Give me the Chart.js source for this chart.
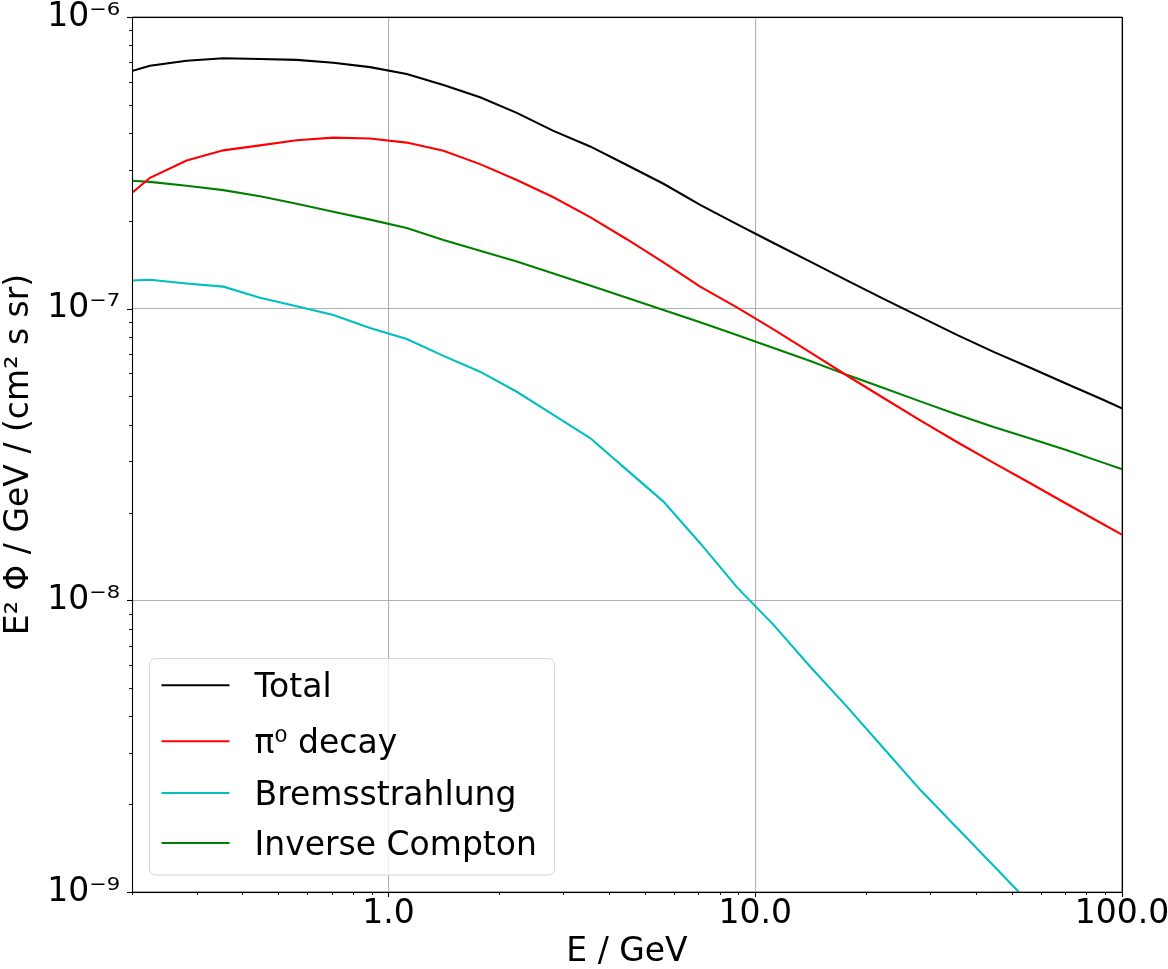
<!DOCTYPE html>
<html><head><meta charset="utf-8">
<script src="https://cdn.jsdelivr.net/npm/chart.js@4.4.0/dist/chart.umd.min.js"></script>
<style>html,body{margin:0;padding:0;background:#fff;overflow:hidden}canvas{display:block}</style>
</head><body>
<canvas id="c" width="1168" height="969" style="width:1168px;height:969px"></canvas>
<script>
// Energies (GeV)
const energy = [0.1778, 0.2239, 0.2818, 0.3548, 0.4467, 0.5623, 0.7079, 0.8913, 1.122, 1.413,
  1.778, 2.239, 2.818, 3.548, 4.467, 5.623, 7.079, 8.913, 11.22, 14.13,
  17.78, 22.39, 28.18, 35.48, 44.67, 56.23, 70.79, 89.13, 112.2];
// E^2 Phi / GeV / (cm^2 s sr)
const total = [6.25e-7, 6.81e-7, 7.08e-7, 7.22e-7, 7.18e-7, 7.13e-7, 6.97e-7, 6.73e-7, 6.38e-7, 5.85e-7,
  5.31e-7, 4.69e-7, 4.07e-7, 3.60e-7, 3.11e-7, 2.68e-7, 2.27e-7, 1.95e-7, 1.68e-7, 1.45e-7,
  1.25e-7, 1.08e-7, 9.37e-8, 8.13e-8, 7.11e-8, 6.27e-8, 5.52e-8, 4.86e-8, 4.26e-8];
const pionDecay = [2.20e-7, 2.81e-7, 3.22e-7, 3.49e-7, 3.63e-7, 3.78e-7, 3.86e-7, 3.83e-7, 3.71e-7, 3.48e-7,
  3.13e-7, 2.76e-7, 2.41e-7, 2.06e-7, 1.73e-7, 1.44e-7, 1.19e-7, 1.01e-7, 8.49e-8, 7.08e-8,
  5.90e-8, 4.94e-8, 4.14e-8, 3.49e-8, 2.96e-8, 2.52e-8, 2.14e-8, 1.82e-8, 1.55e-8];
const bremsstrahlung = [1.24e-7, 1.257e-7, 1.22e-7, 1.19e-7, 1.09e-7, 1.02e-7, 9.52e-8, 8.59e-8, 7.87e-8, 6.89e-8,
  6.08e-8, 5.19e-8, 4.32e-8, 3.60e-8, 2.80e-8, 2.18e-8, 1.57e-8, 1.11e-8, 8.24e-9, 5.92e-9,
  4.32e-9, 3.11e-9, 2.24e-9, 1.66e-9, 1.23e-9, 9.1e-10, null, null, null];
const inverseCompton = [2.77e-7, 2.72e-7, 2.64e-7, 2.55e-7, 2.43e-7, 2.29e-7, 2.15e-7, 2.02e-7, 1.89e-7, 1.72e-7,
  1.58e-7, 1.45e-7, 1.32e-7, 1.20e-7, 1.09e-7, 9.90e-8, 8.98e-8, 8.13e-8, 7.33e-8, 6.62e-8,
  5.93e-8, 5.35e-8, 4.81e-8, 4.34e-8, 3.93e-8, 3.59e-8, 3.27e-8, 2.96e-8, 2.68e-8];

const seriesLabels = ['Total', 'π⁰ decay', 'Bremsstrahlung', 'Inverse Compton'];
const seriesColors = ['#000000', '#ff0000', '#00bfbf', '#008000'];

const xTickValues = [1, 10, 100];
const xTickLabels = ['1.0', '10.0', '100.0'];
const yTickValues = [1e-9, 1e-8, 1e-7, 1e-6];
const yTickLabels = ['10⁻⁹', '10⁻⁸', '10⁻⁷', '10⁻⁶'];
const xRange = [0.2, 100];
const yRange = [1e-9, 1e-6];

const FONT = '"DejaVu Sans", "Liberation Sans", sans-serif';
const FS = 33;

function pts(vals) { return energy.map((e, i) => ({ x: e, y: vals[i] })); }
const allSeries = [total, pionDecay, bremsstrahlung, inverseCompton];

function minorValues(lo, hi) {
  const out = [];
  for (let p = Math.floor(Math.log10(lo)); p <= Math.ceil(Math.log10(hi)); p++) {
    for (let k = 2; k <= 9; k++) {
      const v = k * Math.pow(10, p);
      if (v >= lo * 0.9999 && v <= hi * 1.0001) out.push(v);
    }
  }
  return out;
}

const framePlugin = {
  id: 'frame',
  afterDraw(chart) {
    const { ctx, chartArea: a, scales: { x, y } } = chart;
    ctx.save();
    ctx.strokeStyle = '#000';
    // ticks
    const seg = (x1, y1, x2, y2, w) => { ctx.lineWidth = w; ctx.beginPath(); ctx.moveTo(x1, y1); ctx.lineTo(x2, y2); ctx.stroke(); };
    for (const v of minorValues(xRange[0], xRange[1])) {
      const p = Math.round(x.getPixelForValue(v)) + 0.5;
      seg(p, a.bottom, p, a.bottom + 3, 0.9);
    }
    for (const v of xTickValues) {
      const p = Math.round(x.getPixelForValue(v)) + 0.5;
      seg(p, a.bottom, p, a.bottom + 5, 1.1);
    }
    for (const v of minorValues(yRange[0], yRange[1])) {
      const p = Math.round(y.getPixelForValue(v)) + 0.5;
      seg(a.left, p, a.left - 3, p, 0.9);
    }
    for (const v of yTickValues) {
      const p = Math.round(y.getPixelForValue(v)) + 0.5;
      seg(a.left, p, a.left - 5, p, 1.1);
    }
    // spines
    ctx.lineWidth = 1.1;
    ctx.strokeRect(Math.round(a.left) + 0.5, Math.round(a.top) + 0.5,
      Math.round(a.right) - Math.round(a.left), Math.round(a.bottom) - Math.round(a.top));
    // legend
    const bx = a.left + 17.5, by = a.bottom - 17 - 216.5, bw = 405, bh = 216.5;
    ctx.beginPath();
    ctx.roundRect(bx, by, bw, bh, 6);
    ctx.fillStyle = 'rgba(255,255,255,0.8)';
    ctx.fill();
    ctx.lineWidth = 1;
    ctx.strokeStyle = '#d6d6d6';
    ctx.stroke();
    const rows = [26.7, 82.7, 134.4, 184.4];
    ctx.font = FS + 'px ' + FONT;
    ctx.textBaseline = 'alphabetic';
    ctx.textAlign = 'left';
    chart.data.datasets.forEach((ds, i) => {
      const ry = by + rows[i];
      ctx.strokeStyle = ds.borderColor;
      seg(bx + 12, ry, bx + 80, ry, 2);
      ctx.fillStyle = '#000';
      ctx.fillText(ds.label, bx + 105, ry + 12);
    });
    ctx.restore();
  }
};

new Chart(document.getElementById('c'), {
  type: 'line',
  data: {
    datasets: allSeries.map((s, i) => ({
      label: seriesLabels[i],
      data: pts(s),
      borderColor: seriesColors[i],
      backgroundColor: seriesColors[i],
      borderWidth: 2.1,
      pointRadius: 0,
      tension: 0,
      fill: false,
      spanGaps: false
    }))
  },
  options: {
    responsive: false,
    animation: false,
    devicePixelRatio: 1,
    layout: { padding: { left: 0, top: 17, right: 46, bottom: 0 } },
    plugins: { legend: { display: false }, tooltip: { enabled: false } },
    scales: {
      x: {
        type: 'logarithmic',
        min: xRange[0], max: xRange[1],
        afterBuildTicks: s => { s.ticks = xTickValues.map(v => ({ value: v })); },
        afterFit: s => { s.height = 77; s.paddingLeft = 0; s.paddingRight = 0; },
        ticks: {
          autoSkip: false, maxRotation: 0, minRotation: 0, padding: 3,
          color: '#000',
          font: { family: FONT, size: FS, lineHeight: 1.2 },
          callback: (v) => { const i = xTickValues.indexOf(v); return i >= 0 ? xTickLabels[i] : ''; }
        },
        grid: { color: '#b0b0b0', lineWidth: 1.1, drawTicks: false },
        border: { display: false },
        title: { display: true, text: 'E / GeV', color: '#000', padding: { top: 0, bottom: 0 },
          font: { family: FONT, size: FS, lineHeight: 1.0 } }
      },
      y: {
        type: 'logarithmic',
        min: yRange[0], max: yRange[1],
        afterBuildTicks: s => { s.ticks = yTickValues.map(v => ({ value: v })); },
        afterFit: s => { s.width = 132; s.paddingTop = 0; s.paddingBottom = 0; },
        ticks: {
          autoSkip: false, padding: 12, color: '#000',
          font: { family: FONT, size: FS, lineHeight: 1.2 },
          callback: (v) => { const i = yTickValues.findIndex(t => Math.abs(t - v) / t < 1e-6); return i >= 0 ? yTickLabels[i] : ''; }
        },
        grid: { color: '#b0b0b0', lineWidth: 1.1, drawTicks: false },
        border: { display: false },
        title: { display: true, text: 'E² Φ / GeV / (cm² s sr)', color: '#000', padding: { top: 0, bottom: 0 },
          font: { family: FONT, size: FS, lineHeight: 1.15 } }
      }
    }
  },
  plugins: [framePlugin]
});
</script>
</body></html>
